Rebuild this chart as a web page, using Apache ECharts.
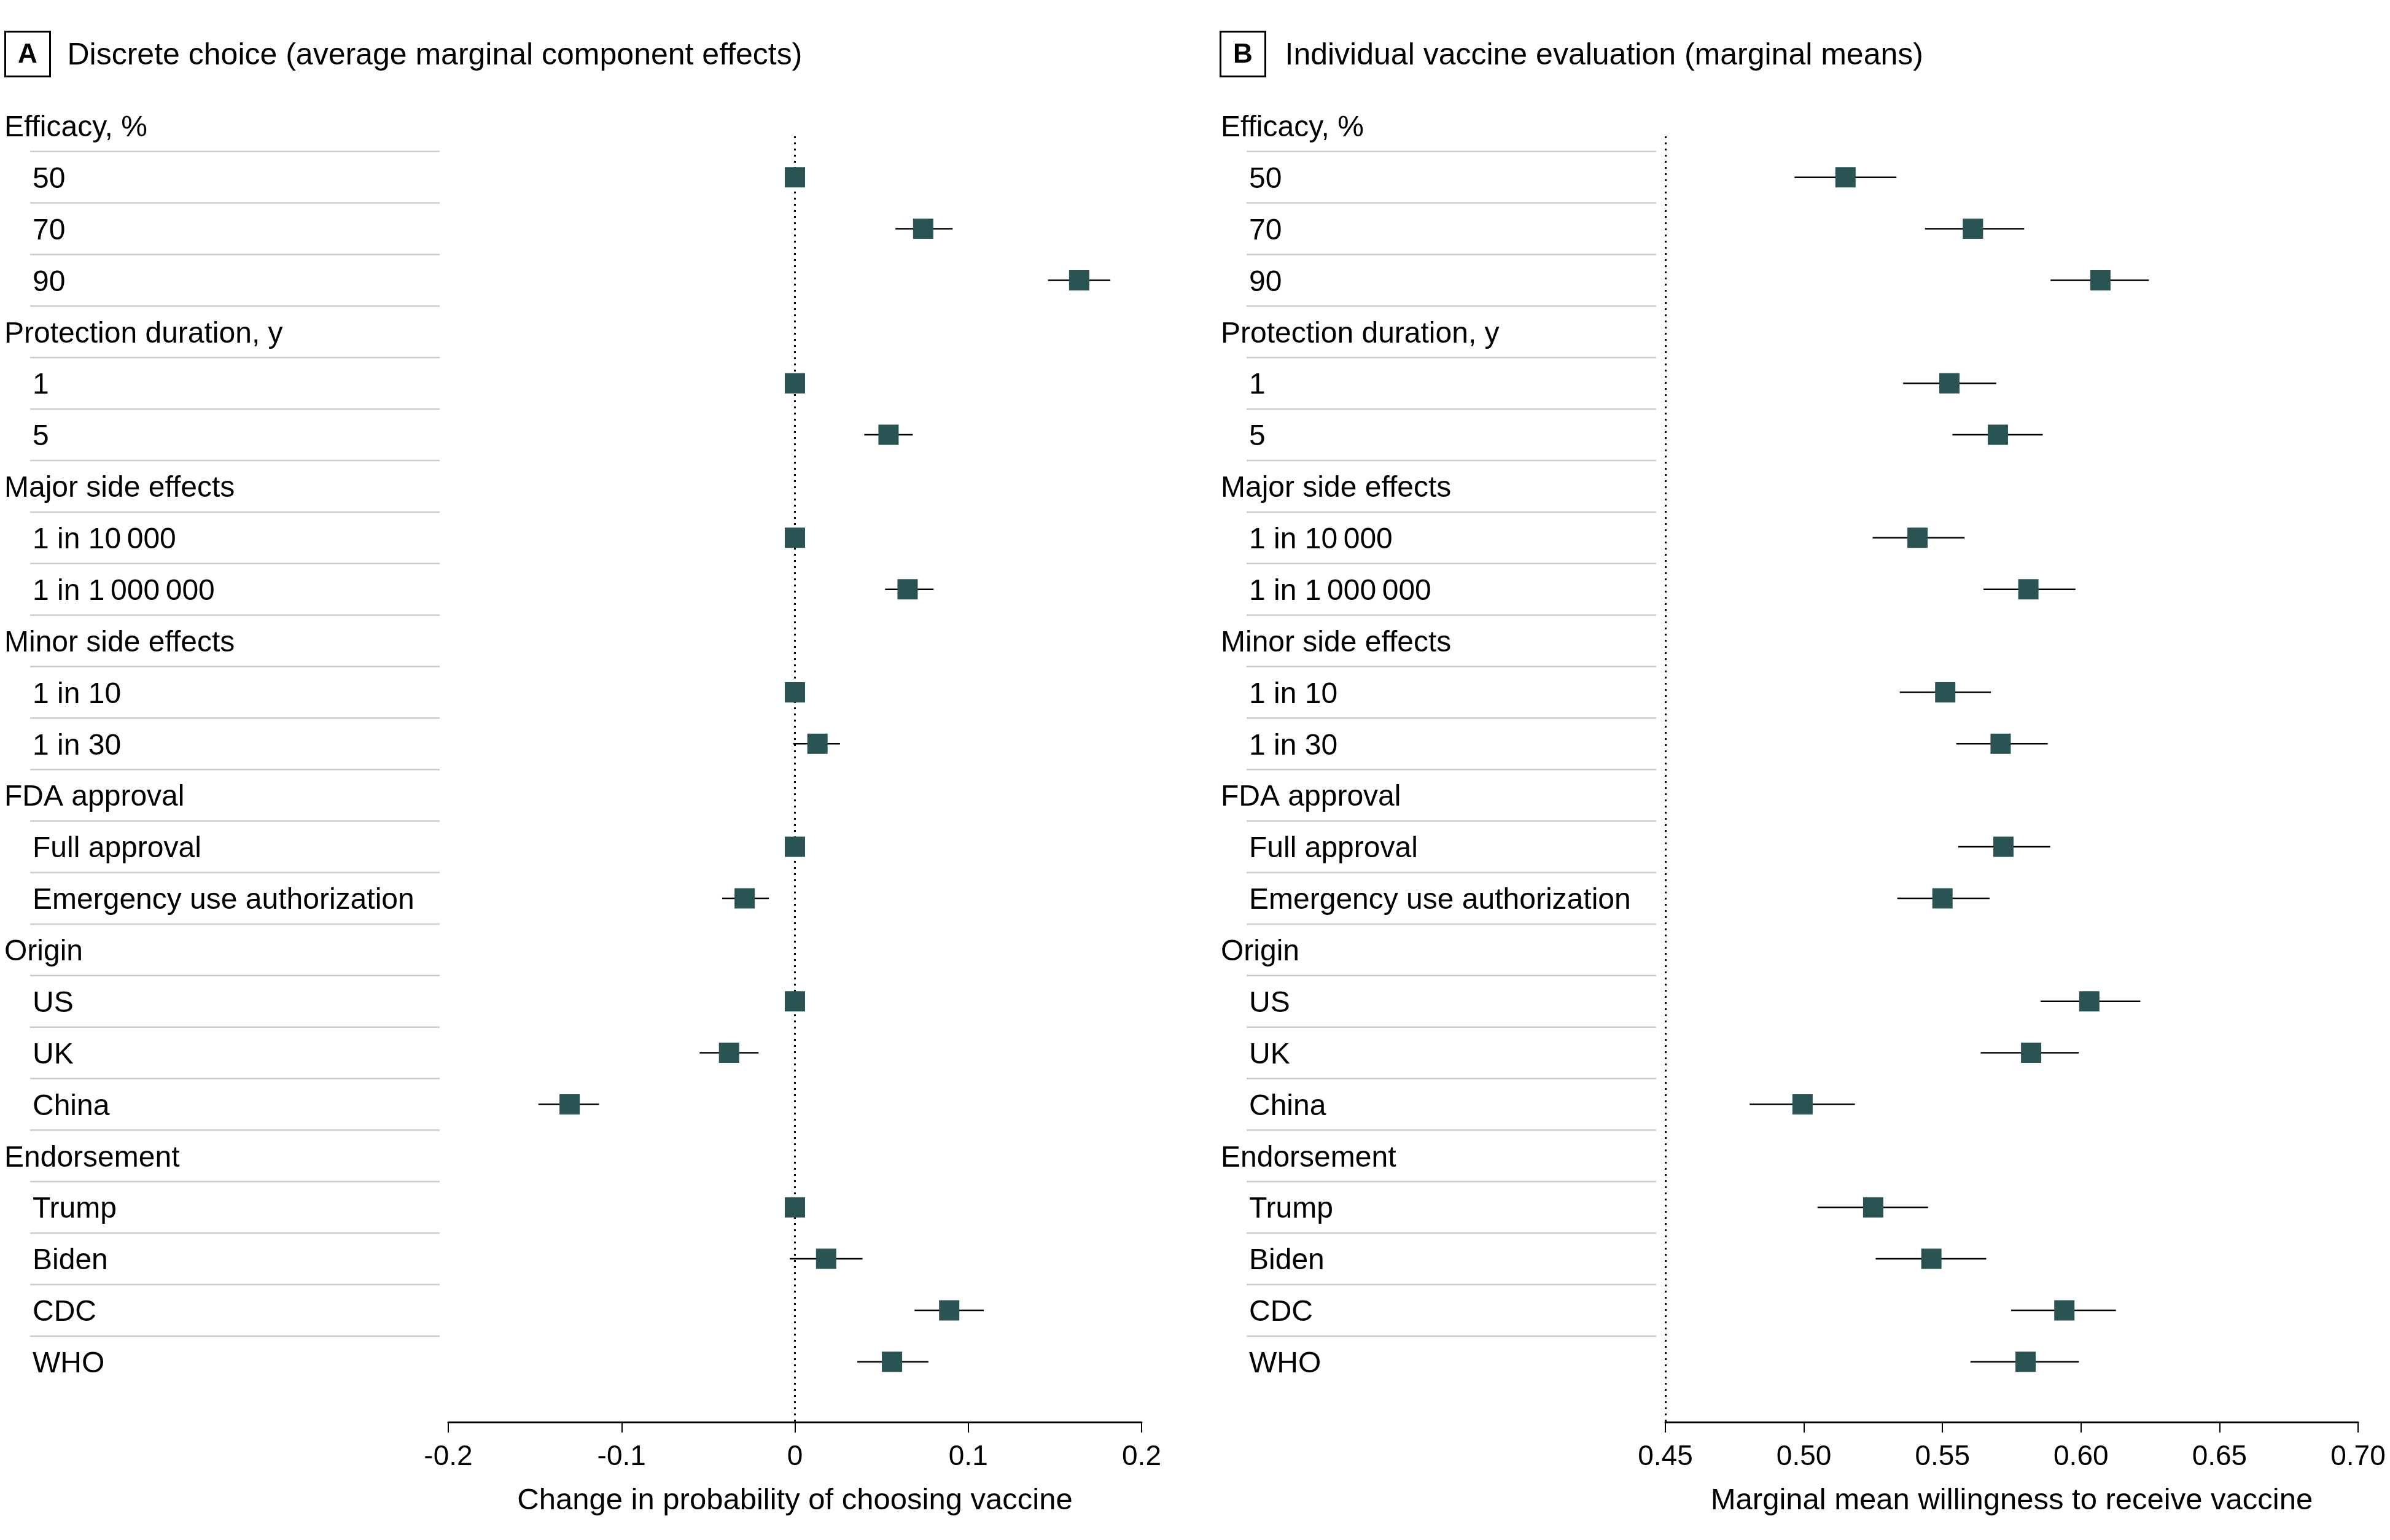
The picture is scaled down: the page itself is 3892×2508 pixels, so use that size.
<!DOCTYPE html>
<html>
<head>
<meta charset="utf-8">
<script src="https://cdn.jsdelivr.net/npm/echarts@6/dist/echarts.min.js"></script>
<style>
html,body{margin:0;padding:0;background:#fff;}
#chart{width:3892px;height:2508px;}
</style>
</head>
<body>
<div id="chart"></div>
<script>
// ---------- DATA ----------
const rowLabels = ['Efficacy, %','50','70','90','Protection duration, y','1','5','Major side effects','1 in 10\u2009000','1 in 1\u2009000\u2009000','Minor side effects','1 in 10','1 in 30','FDA approval','Full approval','Emergency use authorization','Origin','US','UK','China','Endorsement','Trump','Biden','CDC','WHO'];
const rowIsHeader = [1,0,0,0,1,0,0,1,0,0,1,0,0,1,0,0,1,0,0,0,1,0,0,0,0];

// Panel A: average marginal component effects (change in probability)
const aEst = [null,0,0.074,0.164,null,0,0.054,null,0,0.065,null,0,0.013,null,0,-0.029,null,0,-0.038,-0.130,null,0,0.018,0.089,0.056];
const aLo  = [null,null,0.058,0.146,null,null,0.040,null,null,0.052,null,null,-0.001,null,null,-0.042,null,null,-0.055,-0.148,null,null,-0.003,0.069,0.036];
const aHi  = [null,null,0.091,0.182,null,null,0.068,null,null,0.080,null,null,0.026,null,null,-0.015,null,null,-0.021,-0.113,null,null,0.039,0.109,0.077];

// Panel B: marginal means (willingness to receive vaccine)
const bEst = [null,0.515,0.561,0.607,null,0.5525,0.570,null,0.541,0.581,null,0.551,0.571,null,0.572,0.550,null,0.603,0.582,0.4995,null,0.525,0.546,0.594,0.580];
const bLo  = [null,0.4966,0.5437,0.589,null,0.5358,0.5536,null,0.5248,0.5648,null,0.5346,0.555,null,0.5557,0.5337,null,0.5854,0.5638,0.4804,null,0.5049,0.5259,0.5748,0.5601];
const bHi  = [null,0.5334,0.5795,0.6245,null,0.5694,0.5862,null,0.558,0.598,null,0.5675,0.588,null,0.5889,0.567,null,0.6214,0.5992,0.5184,null,0.5448,0.5658,0.6126,0.5992];

const panelTitles = ['Discrete choice (average marginal component effects)','Individual vaccine evaluation (marginal means)'];
const panelLetters = ['A','B'];
const axisTitles = ['Change in probability of choosing vaccine','Marginal mean willingness to receive vaccine'];
const aTicks = {min:-0.2,max:0.2,interval:0.1};
const bTicks = {min:0.45,max:0.70,interval:0.05};

// ---------- LAYOUT ----------
const FONT = '"Liberation Sans", Arial, sans-serif';
const GRID_TOP = 222, GRID_H = 2094;
const Y_MIN = 0.205, Y_MAX = 25.17;
const LABEL_W = 716;
const SQUARE = '#2a5454';
const SEP = '#c9cfc1';

function buildEst(est){ const d=[]; est.forEach((v,i)=>{ if(v!==null) d.push([v,i]); }); return d; }
function buildCI(lo,hi){ const d=[]; lo.forEach((v,i)=>{ if(v!==null && hi[i]!==null) d.push([v,hi[i],i]); }); return d; }
const labelData = rowLabels.map((t,i)=>[rowIsHeader[i]?7:53, i, t]);
const sepData = rowLabels.slice(1).map((t,i)=>[i+0.5]);

const chart = echarts.init(document.getElementById('chart'), null, {renderer:'canvas'});

function yAxisCfg(idx){ return {gridIndex:idx,type:'value',inverse:true,min:Y_MIN,max:Y_MAX,show:false}; }
function xAxisCfg(idx, t, name, fmt){
  return {gridIndex:idx,type:'value',min:t.min,max:t.max,interval:t.interval,
    name:name,nameLocation:'middle',nameGap:104,
    nameTextStyle:{fontFamily:FONT,fontSize:49,color:'#000'},
    axisLine:{show:true,onZero:false,lineStyle:{color:'#000',width:3}},
    axisTick:{show:true,inside:false,length:17,lineStyle:{color:'#000',width:2}},
    axisLabel:{show:true,margin:34,fontFamily:FONT,fontSize:46,color:'#000',formatter:fmt},
    splitLine:{show:false}};
}
function labelSeries(gridIdx){
  return [{
    type:'custom',xAxisIndex:gridIdx,yAxisIndex:gridIdx,data:sepData,silent:true,z:1,
    renderItem:function(params,api){
      const p1 = api.coord([49, api.value(0)]);
      const p2 = api.coord([LABEL_W, api.value(0)]);
      return {type:'line',shape:{x1:p1[0],y1:p1[1],x2:p2[0],y2:p2[1]},style:{stroke:SEP,lineWidth:2.5}};
    }
  },{
    type:'custom',xAxisIndex:gridIdx,yAxisIndex:gridIdx,data:labelData,silent:true,z:2,
    encode:{x:0,y:1},
    renderItem:function(params,api){
      const p = api.coord([api.value(0), api.value(1)]);
      return {type:'text',x:p[0],y:p[1]+4,style:{text:labelData[params.dataIndex][2],font:'48px '+FONT,fill:'#000',textAlign:'left',textVerticalAlign:'middle'}};
    }
  }];
}
function dataSeries(gridIdx, est, lo, hi, refX){
  return [{
    type:'custom',xAxisIndex:gridIdx,yAxisIndex:gridIdx,data:buildCI(lo,hi),silent:true,z:3,
    encode:{x:[0,1],y:2},
    renderItem:function(params,api){
      const p1 = api.coord([api.value(0), api.value(2)]);
      const p2 = api.coord([api.value(1), api.value(2)]);
      return {type:'line',shape:{x1:p1[0],y1:p1[1],x2:p2[0],y2:p2[1]},style:{stroke:'#000',lineWidth:2.5}};
    }
  },{
    type:'scatter',xAxisIndex:gridIdx,yAxisIndex:gridIdx,data:buildEst(est),silent:true,z:4,
    symbol:'rect',symbolSize:33,itemStyle:{color:SQUARE,opacity:1},
    markLine:{silent:true,symbol:['none','none'],z:2,label:{show:false},
      lineStyle:{color:'#000',width:3,type:[3,7]},
      data:[{xAxis:refX}]}
  }];
}

const option = {
  backgroundColor:'#fff',
  animation:false,
  textStyle:{fontFamily:FONT},
  grid:[
    {left:0,top:GRID_TOP,width:LABEL_W,height:GRID_H},
    {left:730,top:GRID_TOP,width:1129,height:GRID_H},
    {left:1981,top:GRID_TOP,width:LABEL_W,height:GRID_H},
    {left:2712,top:GRID_TOP,width:1128,height:GRID_H}
  ],
  xAxis:[
    {gridIndex:0,type:'value',min:0,max:LABEL_W,show:false},
    xAxisCfg(1,aTicks,axisTitles[0],function(v){return String(Math.round(v*10)/10);}),
    {gridIndex:2,type:'value',min:0,max:LABEL_W,show:false},
    xAxisCfg(3,bTicks,axisTitles[1],function(v){return v.toFixed(2);})
  ],
  yAxis:[yAxisCfg(0),yAxisCfg(1),yAxisCfg(2),yAxisCfg(3)],
  series:[].concat(
    labelSeries(0),
    dataSeries(1,aEst,aLo,aHi,0),
    labelSeries(2),
    dataSeries(3,bEst,bLo,bHi,bTicks.min)
  ),
  graphic:[0,1].map(function(k){
    const x0 = k===0 ? 7 : 1986;
    return {type:'group',left:x0,top:50,children:[
      {type:'rect',shape:{x:0,y:0,width:73,height:73},style:{fill:'#fff',stroke:'#000',lineWidth:3}},
      {type:'text',x:36.5,y:38,style:{text:panelLetters[k],font:'bold 44px '+FONT,fill:'#000',textAlign:'center',textVerticalAlign:'middle'}},
      {type:'text',x:(k===0?101:105),y:40,style:{text:panelTitles[k],font:'50px '+FONT,fill:'#000',textAlign:'left',textVerticalAlign:'middle'}}
    ]};
  })
};
chart.setOption(option);
</script>
</body>
</html>
